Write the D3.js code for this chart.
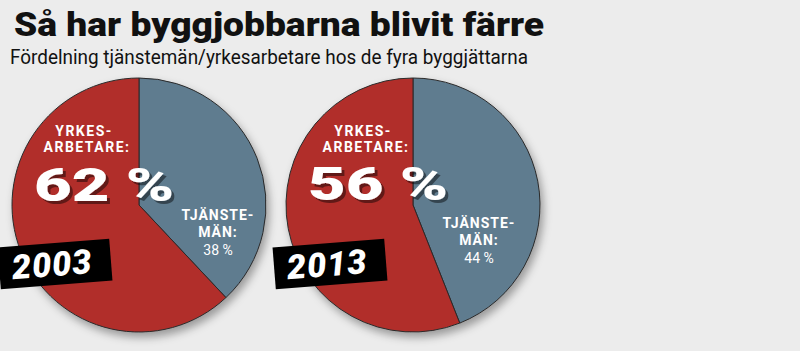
<!DOCTYPE html>
<html>
<head>
<meta charset="utf-8">
<script src="https://cdn.jsdelivr.net/npm/d3@7"></script>
<style>
  html, body { margin: 0; padding: 0; background: #ececec; }
  svg { display: block; }
</style>
</head>
<body>
<div id="chart"></div>
<script>
// --- Data ---
const years = ["2003", "2013"];
const tjanstemanShare = [38, 44];
const yrkesarbetareShare = [62, 56];
const categories = ["Tjänstemän", "Yrkesarbetare"];
const categoryColors = ["#5f7b8f", "#b12f2b"];

const title = "Så har byggjobbarna blivit färre";
const subtitle = "Fördelning tjänstemän/yrkesarbetare hos de fyra byggjättarna";

// --- Layout ---
const width = 800, height = 351;
const radius = 127;
const pieY = 205;

// label offsets from each pie's centre (hand placed like the original)
const layout = [
  { cx: 139, yrkX: -55, numX: -35, numY: -4, tjX: 79, tjY: 15, boxX: -84 },
  { cx: 413, yrkX: -50, numX: -35, numY: -5, tjX: 66, tjY: 23, boxX: -83 }
];

const svg = d3.select("#chart").append("svg")
  .attr("width", width)
  .attr("height", height);

svg.append("rect").attr("width", width).attr("height", height).attr("fill", "#ececec");

const defs = svg.append("defs");
const shadow = defs.append("filter").attr("id", "pieShadow")
  .attr("x", "-20%").attr("y", "-20%").attr("width", "140%").attr("height", "140%");
shadow.append("feDropShadow")
  .attr("dx", 3).attr("dy", 5).attr("stdDeviation", 4)
  .attr("flood-color", "#000").attr("flood-opacity", 0.35);

const numShadow = defs.append("filter").attr("id", "numShadow")
  .attr("x", "-10%").attr("y", "-10%").attr("width", "130%").attr("height", "130%");
numShadow.append("feDropShadow")
  .attr("dx", 3).attr("dy", 3).attr("stdDeviation", 0.6)
  .attr("flood-color", "#000").attr("flood-opacity", 0.45);

// --- Titles ---
svg.append("text")
  .attr("x", 14).attr("y", 36)
  .attr("textLength", 530).attr("lengthAdjust", "spacingAndGlyphs")
  .style("font-family", "Roboto, sans-serif")
  .style("font-weight", 900)
  .style("font-size", "34px")
  .attr("fill", "#111")
  .text(title);

svg.append("text")
  .attr("x", 10).attr("y", 64)
  .attr("textLength", 518).attr("lengthAdjust", "spacingAndGlyphs")
  .style("font-family", "Roboto, sans-serif")
  .style("font-weight", 400)
  .style("font-size", "21px")
  .attr("fill", "#111")
  .text(subtitle);

// --- Pies ---
const pie = d3.pie().sort(null).value(d => d.value);
const arc = d3.arc().innerRadius(0).outerRadius(radius);

years.forEach((year, i) => {
  const L = layout[i];
  const g = svg.append("g").attr("transform", `translate(${L.cx},${pieY})`);

  const values = [
    { cat: categories[0], value: tjanstemanShare[i] },
    { cat: categories[1], value: yrkesarbetareShare[i] }
  ];

  const slices = g.append("g").attr("filter", "url(#pieShadow)");
  slices.selectAll("path")
    .data(pie(values))
    .enter()
    .append("path")
    .attr("d", arc)
    .attr("fill", (d, j) => categoryColors[j])
    .attr("stroke", "#2a2a2a")
    .attr("stroke-width", 1);

  // Yrkesarbetare label
  const lab = g.append("g").attr("fill", "#fff")
    .style("font-family", "Roboto, sans-serif");

  lab.append("text")
    .attr("x", L.yrkX).attr("y", -69)
    .attr("text-anchor", "middle")
    .style("font-weight", 700).style("font-size", "14px")
    .style("letter-spacing", "1.5px")
    .text("YRKES-");
  lab.append("text")
    .attr("x", L.yrkX + 3).attr("y", -53)
    .attr("text-anchor", "middle")
    .style("font-weight", 700).style("font-size", "14px")
    .style("letter-spacing", "1.5px")
    .text("ARBETARE:");

  g.append("text")
    .attr("x", L.numX).attr("y", L.numY)
    .attr("text-anchor", "middle")
    .attr("textLength", 140).attr("lengthAdjust", "spacingAndGlyphs")
    .attr("filter", "url(#numShadow)")
    .style("font-family", "Roboto, sans-serif")
    .style("font-weight", 900).style("font-size", "46px")
    .attr("fill", "#fff")
    .text(`${yrkesarbetareShare[i]} %`);

  // Tjänstemän label
  lab.append("text")
    .attr("x", L.tjX).attr("y", L.tjY)
    .attr("text-anchor", "middle")
    .style("font-weight", 700).style("font-size", "14px")
    .style("letter-spacing", "1px")
    .text("TJÄNSTE-");
  lab.append("text")
    .attr("x", L.tjX).attr("y", L.tjY + 17)
    .attr("text-anchor", "middle")
    .style("font-weight", 700).style("font-size", "14px")
    .style("letter-spacing", "1px")
    .text("MÄN:");
  lab.append("text")
    .attr("x", L.tjX).attr("y", L.tjY + 35)
    .attr("text-anchor", "middle")
    .style("font-weight", 400).style("font-size", "14px")
    .text(`${tjanstemanShare[i]} %`);

  // Year tag
  const tag = g.append("g")
    .attr("transform", `translate(${L.boxX},59) rotate(-4.5)`);
  tag.append("rect")
    .attr("x", -56).attr("y", -21)
    .attr("width", 112).attr("height", 42)
    .attr("fill", "#000");
  tag.append("text")
    .attr("x", -3).attr("y", 12)
    .attr("text-anchor", "middle")
    .style("font-family", "Roboto, sans-serif")
    .style("font-weight", 900).style("font-style", "italic")
    .style("font-size", "34px")
    .style("letter-spacing", "1px")
    .attr("fill", "#fff")
    .text(year);
});
</script>
</body>
</html>
